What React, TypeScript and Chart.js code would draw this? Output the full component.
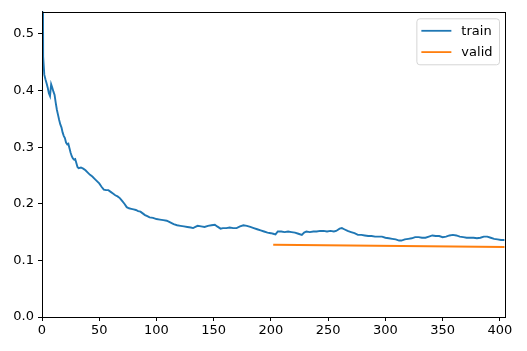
import React, { useEffect, useRef } from "react";
import { Chart, registerables } from "chart.js";

Chart.register(...registerables);

const trainSteps = [
  0, 1, 2, 3, 4, 5, 6, 7, 8, 9, 10, 11, 12, 13, 14, 15, 16, 17, 18, 19, 20,
  21, 22, 23, 24, 25, 26, 27, 28, 29, 30, 31, 32, 34, 36, 38, 40, 42, 44, 46,
  48, 50, 52, 54, 56, 58, 60, 62, 64, 66, 68, 70, 72, 74, 76, 78, 80, 82, 84,
  86, 88, 90, 92, 94, 97, 100, 103, 106, 109, 112, 115, 118, 121, 124, 127,
  130, 132, 134, 136, 139, 142, 145, 148, 151, 153, 156, 158, 161, 164, 167,
  170, 173, 176, 179, 182, 185, 188, 191, 194, 197, 200, 202, 204, 206, 209,
  212, 215, 218, 221, 224, 227, 229, 231, 234, 237, 240, 243, 246, 249, 252,
  255, 257, 260, 262, 264, 267, 270, 273, 276, 279, 282, 285, 288, 291, 294,
  297, 300, 303, 306, 309, 312, 314, 317, 320, 323, 326, 329, 332, 335, 338,
  341, 344, 347, 350, 353, 356, 359, 362, 365, 368, 371, 374, 377, 380, 383,
  386, 389, 392, 395, 398, 401, 404,
];

const trainLoss = [
  1.3, 0.46, 0.428, 0.42, 0.413, 0.405, 0.395, 0.39, 0.411, 0.405, 0.398,
  0.392, 0.378, 0.366, 0.357, 0.348, 0.34, 0.335, 0.326, 0.32, 0.316, 0.308,
  0.305, 0.306, 0.298, 0.29, 0.284, 0.28, 0.278, 0.279, 0.272, 0.265, 0.263,
  0.264, 0.262, 0.259, 0.255, 0.251, 0.248, 0.244, 0.24, 0.236, 0.23, 0.225,
  0.224, 0.224, 0.221, 0.218, 0.215, 0.213, 0.21, 0.205, 0.2, 0.194, 0.192,
  0.191, 0.19, 0.189, 0.187, 0.186, 0.183, 0.18, 0.178, 0.176, 0.175, 0.173,
  0.172, 0.171, 0.17, 0.167, 0.164, 0.162, 0.161, 0.16, 0.159, 0.158, 0.157,
  0.159, 0.161, 0.16, 0.159, 0.161, 0.162, 0.163, 0.16, 0.156, 0.157, 0.157,
  0.158, 0.157, 0.157, 0.16, 0.162, 0.161, 0.159, 0.157, 0.155, 0.153, 0.151,
  0.149, 0.148, 0.147, 0.146, 0.151, 0.151, 0.15, 0.151, 0.15, 0.149, 0.147,
  0.145, 0.149, 0.151, 0.15, 0.151, 0.151, 0.152, 0.152, 0.151, 0.152, 0.151,
  0.152, 0.156, 0.157, 0.155, 0.152, 0.15, 0.148, 0.145, 0.145, 0.144, 0.143,
  0.143, 0.142, 0.142, 0.142, 0.14, 0.139, 0.138, 0.137, 0.135, 0.135, 0.137,
  0.138, 0.139, 0.141, 0.141, 0.14, 0.14, 0.142, 0.144, 0.143, 0.143, 0.141,
  0.142, 0.144, 0.145, 0.144, 0.142, 0.141, 0.14, 0.14, 0.14, 0.139, 0.14,
  0.142, 0.142, 0.14, 0.138, 0.137, 0.136, 0.136,
];

const validSteps = [202, 404];
const validLoss = [0.1275, 0.1235];

const xTicks = [0, 50, 100, 150, 200, 250, 300, 350, 400];
const yTicks = [0.0, 0.1, 0.2, 0.3, 0.4, 0.5];

const seriesLabels = ["train", "valid"];

const FONT = "'DejaVu Sans', sans-serif";

const frameAndLegend = {
  id: "frameAndLegend",
  afterDraw(chart: any) {
    const { ctx, chartArea } = chart;
    ctx.save();
    ctx.strokeStyle = "#000";
    ctx.lineWidth = 1;
    ctx.strokeRect(
      Math.round(chartArea.left) + 0.5,
      Math.round(chartArea.top) + 0.5,
      Math.round(chartArea.right - chartArea.left),
      Math.round(chartArea.bottom - chartArea.top)
    );
    ctx.font = `13px ${FONT}`;
    const datasets = chart.data.datasets;
    let textW = 0;
    datasets.forEach((d: any) => {
      textW = Math.max(textW, ctx.measureText(d.label).width);
    });
    const right = chartArea.right - 5.5;
    const top = chartArea.top + 7;
    const w = 4.5 + 30 + 10 + textW + 7;
    const left = right - w;
    const h = 46;
    const r = 3;
    ctx.beginPath();
    ctx.moveTo(left + r, top);
    ctx.lineTo(right - r, top);
    ctx.quadraticCurveTo(right, top, right, top + r);
    ctx.lineTo(right, top + h - r);
    ctx.quadraticCurveTo(right, top + h, right - r, top + h);
    ctx.lineTo(left + r, top + h);
    ctx.quadraticCurveTo(left, top + h, left, top + h - r);
    ctx.lineTo(left, top + r);
    ctx.quadraticCurveTo(left, top, left + r, top);
    ctx.closePath();
    ctx.fillStyle = "rgba(255,255,255,0.8)";
    ctx.fill();
    ctx.strokeStyle = "#d5d5d5";
    ctx.lineWidth = 1;
    ctx.stroke();
    datasets.forEach((d: any, i: number) => {
      const y = top + 12 + i * 21.3;
      ctx.strokeStyle = d.borderColor;
      ctx.lineWidth = 1.8;
      ctx.beginPath();
      ctx.moveTo(left + 4.5, y);
      ctx.lineTo(left + 34.5, y);
      ctx.stroke();
      ctx.fillStyle = "#000";
      ctx.textBaseline = "middle";
      ctx.textAlign = "left";
      ctx.fillText(d.label, left + 44.5, y + 1);
    });
    ctx.restore();
  },
};

export default function App() {
  const ref = useRef<HTMLCanvasElement>(null);
  useEffect(() => {
    if (!ref.current) return;
    const chart = new Chart(ref.current, {
      type: "line",
      data: {
        datasets: [
          {
            label: seriesLabels[0],
            data: trainSteps.map((x, i) => ({ x, y: trainLoss[i] })),
            borderColor: "#1f77b4",
            backgroundColor: "#1f77b4",
            borderWidth: 1.9,
            pointRadius: 0,
            tension: 0,
          },
          {
            label: seriesLabels[1],
            data: validSteps.map((x, i) => ({ x, y: validLoss[i] })),
            borderColor: "#ff7f0e",
            backgroundColor: "#ff7f0e",
            borderWidth: 1.9,
            pointRadius: 0,
            tension: 0,
          },
        ],
      },
      options: {
        animation: false,
        responsive: false,
        devicePixelRatio: 1,
        layout: { padding: { left: 0, right: 22, top: 9, bottom: 0 } },
        plugins: {
          legend: { display: false },
          tooltip: { enabled: false },
        },
        scales: {
          x: {
            type: "linear",
            min: 0,
            max: 404.5,
            afterBuildTicks: (scale: any) => {
              scale.ticks = xTicks.map((v) => ({ value: v }));
            },
            afterFit: (scale: any) => {
              scale.height = 34;
            },
            grid: {
              drawOnChartArea: false,
              drawTicks: true,
              tickLength: 4,
              color: "#000",
              tickWidth: 1,
            },
            border: { display: true, color: "#000", width: 1 },
            ticks: {
              color: "#000",
              font: { family: FONT, size: 13 },
              padding: 2,
              maxRotation: 0,
              autoSkip: false,
              callback: (v: any) => String(v),
            },
          },
          y: {
            type: "linear",
            min: 0,
            max: 0.539,
            afterBuildTicks: (scale: any) => {
              scale.ticks = yTicks.map((v) => ({ value: v }));
            },
            afterFit: (scale: any) => {
              scale.width = 42;
            },
            grid: {
              drawOnChartArea: false,
              drawTicks: true,
              tickLength: 4,
              color: "#000",
              tickWidth: 1,
            },
            border: { display: true, color: "#000", width: 1 },
            ticks: {
              color: "#000",
              font: { family: FONT, size: 13 },
              padding: 4,
              autoSkip: false,
              callback: (v: any) => Number(v).toFixed(1),
            },
          },
        },
      },
      plugins: [frameAndLegend],
    });
    return () => chart.destroy();
  }, []);
  return (
    <div style={{ position: "fixed", left: 0, top: 0, width: 527, height: 351, background: "#fff" }}>
      <canvas ref={ref} width={527} height={351} />
    </div>
  );
}
